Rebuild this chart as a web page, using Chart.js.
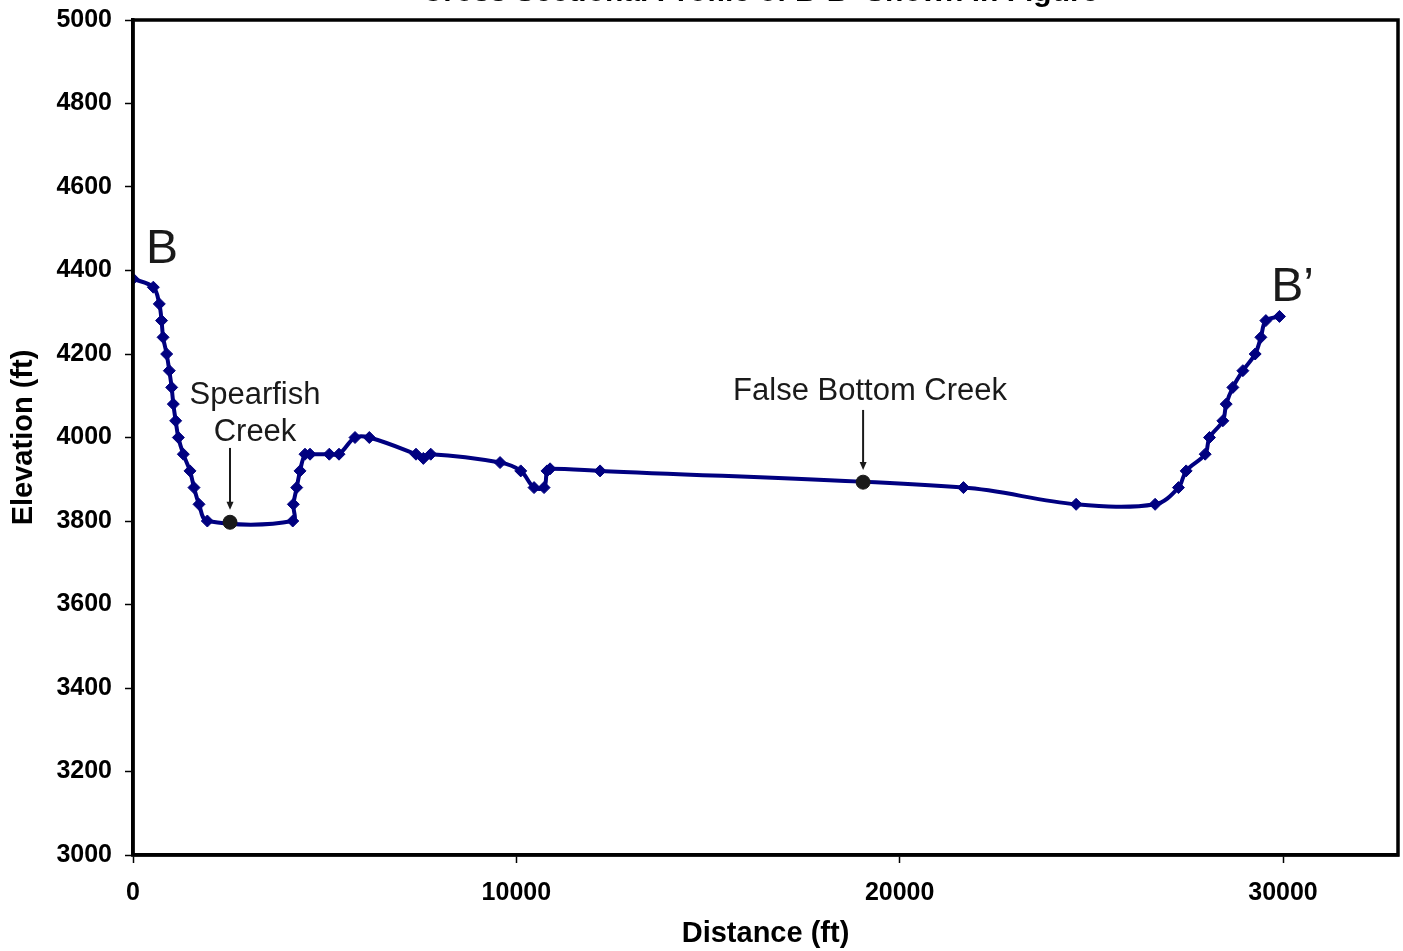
<!DOCTYPE html>
<html>
<head>
<meta charset="utf-8">
<script src="https://cdn.jsdelivr.net/npm/chart.js@4.4.1/dist/chart.umd.min.js"></script>
<style>
  html, body { margin: 0; padding: 0; background: #fff; overflow: hidden; }
  #wrap { width: 1403px; height: 951px; overflow: hidden; }
  canvas { display: block; }
</style>
</head>
<body>
<div id="wrap"><canvas id="profileChart" width="1406" height="951"></canvas></div>
<script>
// distance along section (ft) and ground elevation (ft)
const distance = [0, 530, 686, 745, 785, 878, 947, 1009, 1052, 1113,
    1183, 1313, 1487, 1591, 1722, 1939, 4167, 4183, 4271, 4357,
    4487, 4618, 5121, 5374, 5792, 6165, 7383, 7574, 7767, 9575,
    10115, 10462, 10723, 10800, 10880, 12184, 21664, 24603, 26664, 27273,
    27474, 27970, 28082, 28431, 28518, 28692, 28953, 29274, 29423, 29553, 29908];
const elevation = [4380, 4360, 4320, 4280, 4240, 4200, 4160, 4120, 4080, 4040,
    4000, 3960, 3920, 3880, 3840, 3800, 3800, 3840, 3880, 3920,
    3960, 3960, 3960, 3960, 4000, 4000, 3960, 3950, 3960, 3940,
    3920, 3880, 3880, 3920, 3925, 3920, 3880, 3840, 3840, 3880,
    3920, 3960, 4000, 4040, 4080, 4120, 4160, 4200, 4240, 4280, 4290];

// creek crossings
const creekNames = ['Spearfish Creek', 'False Bottom Creek'];
const creekDistance = [2531, 19046];
const creekElevation = [3797, 3893];

const xTicks = [0, 10000, 20000, 30000];
const FONT = "'Liberation Sans', Arial, sans-serif";

const profilePoints = distance.map((d, i) => ({ x: d, y: elevation[i] }));
const creekPoints = creekDistance.map((d, i) => ({ x: d, y: creekElevation[i] }));

// рамка, стрелки и подписи
const annotations = {
    id: 'annotations',
    afterDraw(chart) {
        const ctx = chart.ctx;
        const a = chart.chartArea;
        const xs = chart.scales.x, ys = chart.scales.y;

        ctx.save();
        ctx.strokeStyle = '#000';
        ctx.lineWidth = 3.5;
        ctx.strokeRect(a.left, a.top, a.right - a.left, a.bottom - a.top);

        // title (mostly cut off at the top edge)
        ctx.fillStyle = '#000';
        ctx.font = 'bold 30px ' + FONT;
        ctx.textAlign = 'center';
        ctx.textBaseline = 'alphabetic';
        ctx.fillText('Cross Sectional Profile of B-B\u2019 Shown in Figure', 760, 1);

        ctx.fillStyle = '#1a1a1a';
        ctx.font = '48px ' + FONT;
        ctx.textBaseline = 'middle';
        ctx.fillText('B', xs.getPixelForValue(757), ys.getPixelForValue(4449));
        ctx.fillText('B\u2019', xs.getPixelForValue(30250), ys.getPixelForValue(4358));

        ctx.font = '31px ' + FONT;
        ctx.fillText('Spearfish', xs.getPixelForValue(3183), ys.getPixelForValue(4100));
        ctx.fillText('Creek', xs.getPixelForValue(3183), ys.getPixelForValue(4013));
        ctx.fillText(creekNames[1], xs.getPixelForValue(19228), ys.getPixelForValue(4111));

        function arrow(x, y0, y1) {
            const px = xs.getPixelForValue(x);
            const p0 = ys.getPixelForValue(y0), p1 = ys.getPixelForValue(y1);
            ctx.strokeStyle = '#1a1a1a';
            ctx.lineWidth = 2;
            ctx.beginPath();
            ctx.moveTo(px, p0);
            ctx.lineTo(px, p1 - 6);
            ctx.stroke();
            ctx.beginPath();
            ctx.moveTo(px - 3.5, p1 - 8);
            ctx.lineTo(px + 3.5, p1 - 8);
            ctx.lineTo(px, p1);
            ctx.closePath();
            ctx.fill();
        }
        arrow(creekDistance[0], 3975, 3827);
        arrow(creekDistance[1], 4066, 3922);
        ctx.restore();
    }
};

new Chart(document.getElementById('profileChart'), {
    type: 'line',
    data: {
        datasets: [
            {
                label: 'Creeks',
                data: creekPoints,
                showLine: false,
                pointStyle: 'circle',
                pointRadius: 7,
                pointBackgroundColor: '#1a1a1a',
                pointBorderColor: '#1a1a1a'
            },
            {
                label: 'Elevation',
                data: profilePoints,
                borderColor: '#000080',
                borderWidth: 4,
                tension: 0.35,
                fill: false,
                pointStyle: 'rectRot',
                pointRadius: 6,
                pointBackgroundColor: '#000080',
                pointBorderColor: '#000080',
                pointBorderWidth: 1
            }
        ]
    },
    options: {
        responsive: false,
        animation: false,
        devicePixelRatio: 1,
        layout: { padding: { top: 20, right: 5, left: 0, bottom: 0 } },
        plugins: {
            legend: { display: false },
            tooltip: { enabled: false }
        },
        scales: {
            x: {
                type: 'linear',
                min: 0,
                max: 33000,
                afterFit: s => { s.height = 96; s.paddingLeft = 0; s.paddingRight = 0; },
                afterBuildTicks: s => { s.ticks = xTicks.map(v => ({ value: v })); },
                grid: { drawOnChartArea: false, color: '#000', tickLength: 8, tickWidth: 1.5 },
                border: { color: '#000', width: 3.5 },
                ticks: {
                    color: '#000',
                    padding: 15,
                    font: { family: FONT, size: 25, weight: 'bold' },
                    callback: v => String(v)
                },
                title: {
                    display: true,
                    text: 'Distance (ft)',
                    color: '#000',
                    padding: { top: 0, bottom: 0 },
                    font: { family: FONT, size: 29, weight: 'bold' }
                }
            },
            y: {
                min: 3000,
                max: 5000,
                afterFit: s => { s.width = 133; s.paddingTop = 0; s.paddingBottom = 0; },
                grid: { drawOnChartArea: false, color: '#000', tickLength: 8, tickWidth: 1.5 },
                border: { color: '#000', width: 3.5 },
                ticks: {
                    stepSize: 200,
                    color: '#000',
                    padding: 13,
                    font: { family: FONT, size: 25, weight: 'bold' },
                    callback: v => String(v)
                },
                title: {
                    display: true,
                    text: 'Elevation (ft)',
                    color: '#000',
                    padding: { top: 7, bottom: 4 },
                    font: { family: FONT, size: 29, weight: 'bold' }
                }
            }
        }
    },
    plugins: [annotations]
});
</script>
</body>
</html>
